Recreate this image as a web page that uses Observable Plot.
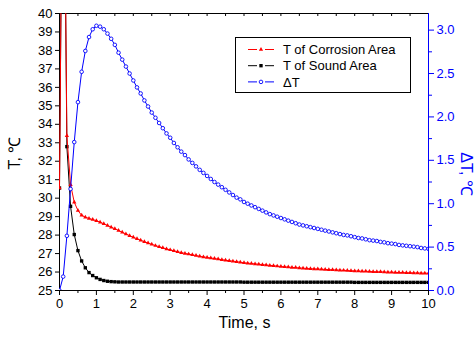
<!DOCTYPE html>
<html>
<head>
<meta charset="utf-8">
<script src="https://cdn.jsdelivr.net/npm/d3@7"></script>
<script src="https://cdn.jsdelivr.net/npm/@observablehq/plot@0.6"></script>
<style>
  html, body { margin: 0; padding: 0; background: white; }
  #chart svg { display: block; }
</style>
</head>
<body>
<div id="chart"></div>
<script>
// ---- Data ----
const time = [
  0.0, 0.1, 0.2, 0.3, 0.4, 0.5, 0.6, 0.7, 0.8, 0.9,
  1.0, 1.1, 1.2, 1.3, 1.4, 1.5, 1.6, 1.7, 1.8, 1.9,
  2.0, 2.1, 2.2, 2.3, 2.4, 2.5, 2.6, 2.7, 2.8, 2.9,
  3.0, 3.1, 3.2, 3.3, 3.4, 3.5, 3.6, 3.7, 3.8, 3.9,
  4.0, 4.1, 4.2, 4.3, 4.4, 4.5, 4.6, 4.7, 4.8, 4.9,
  5.0, 5.1, 5.2, 5.3, 5.4, 5.5, 5.6, 5.7, 5.8, 5.9,
  6.0, 6.1, 6.2, 6.3, 6.4, 6.5, 6.6, 6.7, 6.8, 6.9,
  7.0, 7.1, 7.2, 7.3, 7.4, 7.5, 7.6, 7.7, 7.8, 7.9,
  8.0, 8.1, 8.2, 8.3, 8.4, 8.5, 8.6, 8.7, 8.8, 8.9,
  9.0, 9.1, 9.2, 9.3, 9.4, 9.5, 9.6, 9.7, 9.8, 9.9,
  10.0
];
const tCorrosion = [
  30.55, 55.16, 33.38, 30.73, 29.78, 29.33, 29.07, 28.97, 28.90, 28.84,
  28.78, 28.70, 28.61, 28.52, 28.43, 28.34, 28.25, 28.15, 28.06, 27.97,
  27.88, 27.80, 27.72, 27.64, 27.57, 27.50, 27.43, 27.37, 27.31, 27.25,
  27.20, 27.15, 27.10, 27.05, 27.01, 26.97, 26.93, 26.89, 26.85, 26.82,
  26.79, 26.76, 26.73, 26.70, 26.67, 26.64, 26.61, 26.59, 26.56, 26.53,
  26.50, 26.48, 26.46, 26.44, 26.42, 26.40, 26.38, 26.36, 26.34, 26.32,
  26.30, 26.28, 26.27, 26.25, 26.24, 26.22, 26.21, 26.19, 26.18, 26.17,
  26.16, 26.15, 26.14, 26.13, 26.12, 26.11, 26.10, 26.09, 26.08, 26.07,
  26.06, 26.05, 26.04, 26.04, 26.03, 26.02, 26.01, 26.01, 26.00, 25.99,
  25.99, 25.98, 25.97, 25.97, 25.96, 25.96, 25.95, 25.95, 25.94, 25.94,
  25.93
];
const tSound = [
  30.55, 55.00, 32.79, 29.56, 28.03, 27.16, 26.60, 26.23, 25.97, 25.81,
  25.69, 25.60, 25.54, 25.50, 25.48, 25.47, 25.46, 25.46, 25.46, 25.46,
  25.46, 25.46, 25.46, 25.46, 25.46, 25.46, 25.46, 25.46, 25.46, 25.46,
  25.46, 25.46, 25.46, 25.46, 25.46, 25.46, 25.46, 25.46, 25.46, 25.46,
  25.46, 25.46, 25.46, 25.46, 25.46, 25.46, 25.46, 25.46, 25.46, 25.46,
  25.45, 25.45, 25.45, 25.45, 25.45, 25.45, 25.45, 25.45, 25.45, 25.45,
  25.45, 25.45, 25.45, 25.45, 25.45, 25.45, 25.45, 25.45, 25.45, 25.45,
  25.45, 25.45, 25.45, 25.45, 25.45, 25.45, 25.45, 25.45, 25.45, 25.45,
  25.44, 25.44, 25.44, 25.44, 25.44, 25.44, 25.44, 25.44, 25.44, 25.44,
  25.44, 25.44, 25.44, 25.44, 25.44, 25.44, 25.44, 25.44, 25.44, 25.44,
  25.44
];
const deltaT = [
  0.00, 0.16, 0.63, 1.17, 1.71, 2.17, 2.52, 2.76, 2.92, 3.01,
  3.05, 3.04, 3.01, 2.96, 2.90, 2.83, 2.74, 2.66, 2.58, 2.50,
  2.42, 2.34, 2.27, 2.19, 2.12, 2.05, 1.99, 1.93, 1.87, 1.81,
  1.76, 1.70, 1.65, 1.60, 1.56, 1.51, 1.47, 1.43, 1.39, 1.355,
  1.32, 1.285, 1.25, 1.22, 1.19, 1.16, 1.13, 1.10, 1.07, 1.05,
  1.02, 1.00, 0.98, 0.96, 0.94, 0.92, 0.90, 0.88, 0.865, 0.85,
  0.835, 0.82, 0.805, 0.79, 0.775, 0.76, 0.75, 0.74, 0.73, 0.72,
  0.71, 0.70, 0.69, 0.68, 0.67, 0.66, 0.65, 0.64, 0.635, 0.625,
  0.615, 0.605, 0.60, 0.59, 0.58, 0.575, 0.57, 0.56, 0.555, 0.545,
  0.54, 0.535, 0.525, 0.52, 0.515, 0.51, 0.505, 0.50, 0.49, 0.485,
  0.48
];

// tick labels
const xTicks = [0, 1, 2, 3, 4, 5, 6, 7, 8, 9, 10];
const xMinorTicks = [0.5, 1.5, 2.5, 3.5, 4.5, 5.5, 6.5, 7.5, 8.5, 9.5];
const xTopTicks = [0.5, 1, 1.5, 2, 2.5, 3, 3.5, 4, 4.5, 5, 5.5, 6, 6.5, 7, 7.5, 8, 8.5, 9, 9.5];
const yTicks = [25, 26, 27, 28, 29, 30, 31, 32, 33, 34, 35, 36, 37, 38, 39, 40];
const rightTicks = [0, 0.5, 1.0, 1.5, 2.0, 2.5, 3.0];
const rightMinorTicks = [0.25, 0.75, 1.25, 1.75, 2.25, 2.75];

const seriesNames = ["T of Corrosion Area", "T of Sound Area", "\u0394T"];
const xLabel = "Time, s";
const yLabel = "T, \u2103";
const y2Label = "\u0394T, \u2103";

// ---- Styling ----
const RED = "#ff0000";
const BLACK = "#000000";
const BLUE = "#0000ff";
const FONT = "'Liberation Sans', Arial, Helvetica, sans-serif";

// right axis (ΔT) maps onto the left scale: 0 -> 25, 3.0 -> ~39.1
const Y2_BASE = 25;
const Y2_K = 4.7;
const toLeft = v => Y2_BASE + v * Y2_K;

const W = 475, H = 338;
const mL = 59, mR = 47, mT = 13, mB = 48;
const plotH = H - mT - mB;

const rows = time.map((t, i) => ({
  t, corr: tCorrosion[i], sound: tSound[i], dT: toLeft(deltaT[i])
}));

const chart = Plot.plot({
  width: W, height: H,
  marginLeft: mL, marginRight: mR, marginTop: mT, marginBottom: mB,
  style: { fontFamily: FONT, fontSize: "13px", background: "white", color: "black" },
  x: { domain: [0, 10] },
  y: { domain: [25, 40] },
  marks: [
    Plot.axisY({ ticks: yTicks, tickSize: 4, tickPadding: 3, label: null, fontSize: 13, tickFormat: d => String(d) }),
    Plot.axisX({ ticks: xTicks, tickSize: 5, tickPadding: 3, label: null, fontSize: 13, tickFormat: d => String(d) }),
    Plot.axisX({ ticks: xMinorTicks, tickSize: 3, label: null, tickFormat: () => "" }),
    Plot.tickX(xTopTicks, { x: d => d, insetBottom: plotH - 3, stroke: BLACK }),
    Plot.axisY({ anchor: "right", ticks: rightTicks.map(toLeft), tickFormat: v => ((v - Y2_BASE) / Y2_K).toFixed(1),
                 color: BLUE, tickSize: 5, tickPadding: 3, label: null, fontSize: 13 }),
    Plot.axisY({ anchor: "right", ticks: rightMinorTicks.map(toLeft), tickFormat: () => "",
                 color: BLUE, tickSize: 3, label: null }),
    Plot.frame({ stroke: BLACK }),
    Plot.ruleX([10], { stroke: BLUE }),

    Plot.line(rows, { x: "t", y: "sound", stroke: BLACK, strokeWidth: 1, clip: true }),
    Plot.dot(rows, { x: "t", y: "sound", symbol: "square", r: 1.9, fill: BLACK, stroke: "none", clip: true }),

    Plot.line(rows, { x: "t", y: "corr", stroke: RED, strokeWidth: 1, clip: true }),
    Plot.dot(rows, { x: "t", y: "corr", symbol: "triangle", r: 1.6, fill: RED, stroke: "none", clip: true }),

    Plot.line(rows, { x: "t", y: "dT", stroke: BLUE, strokeWidth: 1, clip: true }),
    Plot.dot(rows, { x: "t", y: "dT", r: 1.8, fill: "white", stroke: BLUE, strokeWidth: 0.9, clip: true })
  ]
});

document.getElementById("chart").appendChild(chart);

// ---- Axis titles & legend (drawn on the same SVG) ----
const svg = d3.select(chart);

svg.append("text")
  .attr("transform", `translate(${(mL + W - mR) / 2 + 1},328)`)
  .attr("text-anchor", "middle")
  .style("font-family", FONT).style("font-size", "16px").attr("fill", BLACK)
  .text(xLabel);

svg.append("text")
  .attr("transform", "translate(20,153) rotate(-90)")
  .attr("text-anchor", "middle")
  .style("font-family", FONT).style("font-size", "16px").attr("fill", BLACK)
  .text(yLabel);

svg.append("text")
  .attr("transform", "translate(461,174) rotate(90)")
  .attr("text-anchor", "middle")
  .style("font-family", FONT).style("font-size", "16px").attr("fill", BLUE)
  .text(y2Label);

const legend = svg.append("g");
legend.append("rect")
  .attr("x", 235.5).attr("y", 37.5).attr("width", 175).attr("height", 55)
  .attr("fill", "white").attr("stroke", BLACK).attr("stroke-width", 1);

const legendItems = [
  { name: seriesNames[0], color: RED, sym: d3.symbolTriangle, r: 1.6, fill: RED, stroke: "none" },
  { name: seriesNames[1], color: BLACK, sym: d3.symbolSquare, r: 1.9, fill: BLACK, stroke: "none" },
  { name: seriesNames[2], color: BLUE, sym: d3.symbolCircle, r: 1.8, fill: "white", stroke: BLUE }
];
legendItems.forEach((d, i) => {
  const cy = 49.5 + i * 16.2;
  const g = legend.append("g");
  g.append("line").attr("x1", 248).attr("x2", 257).attr("y1", cy).attr("y2", cy)
    .attr("stroke", d.color).attr("stroke-width", 1);
  g.append("line").attr("x1", 265).attr("x2", 274).attr("y1", cy).attr("y2", cy)
    .attr("stroke", d.color).attr("stroke-width", 1);
  g.append("path")
    .attr("d", d3.symbol(d.sym, d.r * d.r * Math.PI)())
    .attr("transform", `translate(261,${cy})`)
    .attr("fill", d.fill).attr("stroke", d.stroke).attr("stroke-width", 0.9);
  g.append("text").attr("x", 283).attr("y", cy + 4.6)
    .attr("text-anchor", "start")
    .style("font-family", FONT).style("font-size", "13px").attr("fill", BLACK)
    .text(d.name);
});
</script>
</body>
</html>
